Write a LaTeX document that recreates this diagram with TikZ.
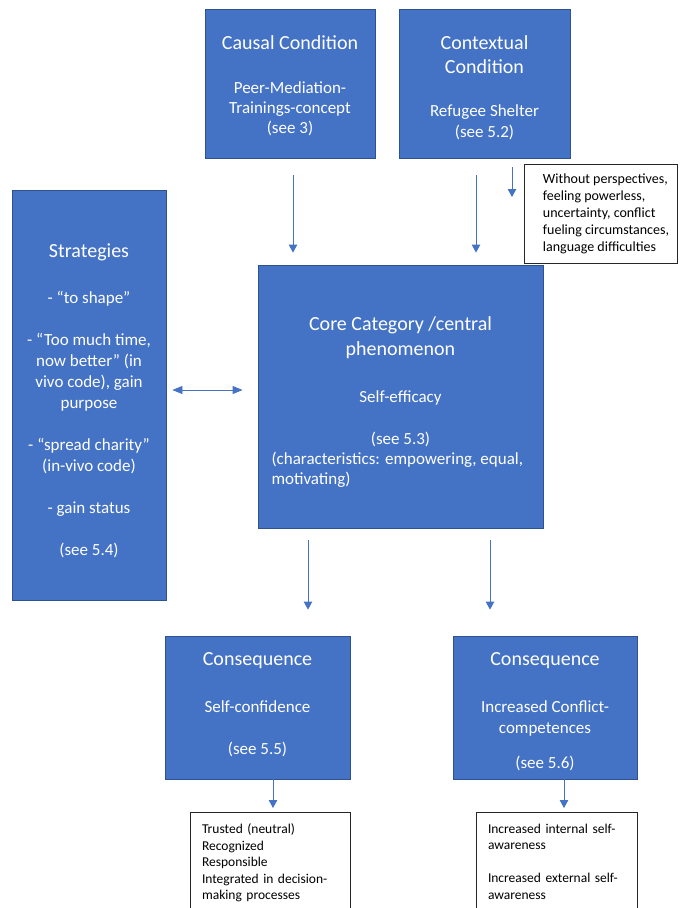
\documentclass[tikz,border=0pt]{standalone}
\usepackage{fontspec}
\setmainfont{Carlito}
\usepackage{xcolor}
\usepackage{tikz}
\usetikzlibrary{arrows.meta,positioning}
\definecolor{officeblue}{HTML}{4472C4}
\definecolor{officeline}{HTML}{2F528F}
\newcommand{\ttl}{\fontsize{20}{24}\selectfont}
\newcommand{\ind}{\hspace*{11pt}}
\newcommand{\lift}[1]{\rule{0pt}{#1}} % pushes the text of a box down a little
\tikzset{
  every node/.style={font=\fontsize{17}{20}\selectfont},
  bluebox/.style={draw=officeline, fill=officeblue, line width=0.8pt, text=white, align=center, inner sep=0pt},
  notebox/.style={draw=black!85, fill=white, line width=0.8pt, align=left, font=\fontsize{13.5}{16.5}\selectfont},
  arrow/.style={-{Triangle[width=8.5pt,length=8pt]}, draw=officeblue, line width=0.8pt}
}

\begin{document}
\begin{tikzpicture}[
    x=1pt, y=-1pt, % one unit = one pixel of the page
    twoway/.style={
        {Triangle[width=8pt,length=10pt]}-{Triangle[width=8pt,length=10pt]},
        draw=officeblue,
        line width=0.8pt
    }
]
\useasboundingbox (0,0) rectangle (680,908);

% Top Row: Conditions
\node[bluebox, minimum width=170pt, minimum height=149pt] (cause) at (290,83.5)
    {{\ttl\lift{19pt}Causal Condition}\\[24pt]Peer-Mediation-\\Trainings-concept\\(see 3)};
\node[bluebox, minimum width=171pt, minimum height=149pt] (context) at (484.5,83.5)
    {{\ttl\lift{22pt}Contextual}\\[4pt]{\ttl Condition}\\[23pt]Refugee Shelter\\[1pt](see 5.2)};
\node[notebox, minimum width=153pt, minimum height=99pt, inner xsep=0pt, font=\fontsize{14}{17}\selectfont] (note) at (600.5,214)
    {\ind Without perspectives,\\\ind feeling powerless,\\\ind uncertainty, conflict\\\ind fueling circumstances,\\\ind language difficulties};

% Middle Row: Strategies and Core Category
\node[bluebox, minimum width=154pt, minimum height=410pt, font=\fontsize{17}{21}\selectfont] (strat) at (89,395)
    {{\ttl\lift{25pt}Strategies}\\[25pt]- “to shape”\\[21pt]- “Too much time,\\now better” (in\\vivo code), gain\\purpose\\[21pt]- “spread charity”\\(in-vivo code)\\[21pt]- gain status\\[21pt](see 5.4)};
\node[bluebox, minimum width=285pt, minimum height=263pt] (core) at (400.5,396.5)
    {{\ttl\lift{24pt}Core Category /central}\\[5pt]{\ttl phenomenon}\\[27pt]Self-efficacy\\[22pt](see 5.3)\\\makebox[258pt][l]{(characteristics: empowering, equal,}\\\makebox[258pt][l]{motivating)}};

% Bottom Row: Consequences and their outcomes
\node[bluebox, minimum width=185pt, minimum height=143pt] (cons1) at (257.5,707.5)
    {{\ttl\lift{21pt}Consequence}\\[27pt]Self-confidence\\[22pt](see 5.5)\rule[-17pt]{0pt}{17pt}};
\node[bluebox, minimum width=184pt, minimum height=143pt] (cons2) at (545,707.5)
    {{\ttl\lift{22pt}Consequence}\\[27pt]Increased Conflict-\\[1pt]competences\\[15pt](see 5.6)};
\node[notebox, anchor=north, text width=136pt, inner xsep=12pt, inner ysep=11.5pt] (out1) at (270,812)
    {Trusted (neutral)\\Recognized\\Responsible\\Integrated in decision-\\making processes};
\node[notebox, anchor=north, text width=137pt, inner xsep=12pt, inner ysep=11.5pt] (out2) at (556.5,812)
    {Increased internal self-\\awareness\\[16.5pt]Increased external self-\\awareness};

% Arrows into the core category
\draw[arrow, shorten <=17pt, shorten >=12pt] ([xshift=3pt]cause.south) -- ([xshift=3pt]cause.south |- core.north);
\draw[arrow, shorten <=17pt, shorten >=12pt] ([xshift=-8.5pt]context.south) -- ([xshift=-8.5pt]context.south |- core.north);
% Short arrow pointing at the note
\coordinate (notetip) at (512,197);
\draw[arrow, shorten <=9pt] (context.south -| notetip) -- (notetip);
% Strategies <-> core
\draw[twoway, shorten <=6pt, shorten >=15pt] ([yshift=5pt]strat.east) -- ([yshift=5pt]strat.east -| core.west);

% Core to consequences
\draw[arrow, shorten <=12pt, shorten >=26pt] ([xshift=-92.5pt]core.south) -- ([xshift=-92.5pt]core.south |- cons1.north);
\draw[arrow, shorten <=12pt, shorten >=26pt] ([xshift=89.5pt]core.south) -- ([xshift=89.5pt]core.south |- cons2.north);

% Consequences to outcomes
\draw[arrow, shorten >=4pt] ([xshift=15.5pt]cons1.south) -- ([xshift=15.5pt]cons1.south |- out1.north);
\draw[arrow, shorten >=4pt] ([xshift=19pt]cons2.south) -- ([xshift=19pt]cons2.south |- out2.north);

\end{tikzpicture}
\end{document}
